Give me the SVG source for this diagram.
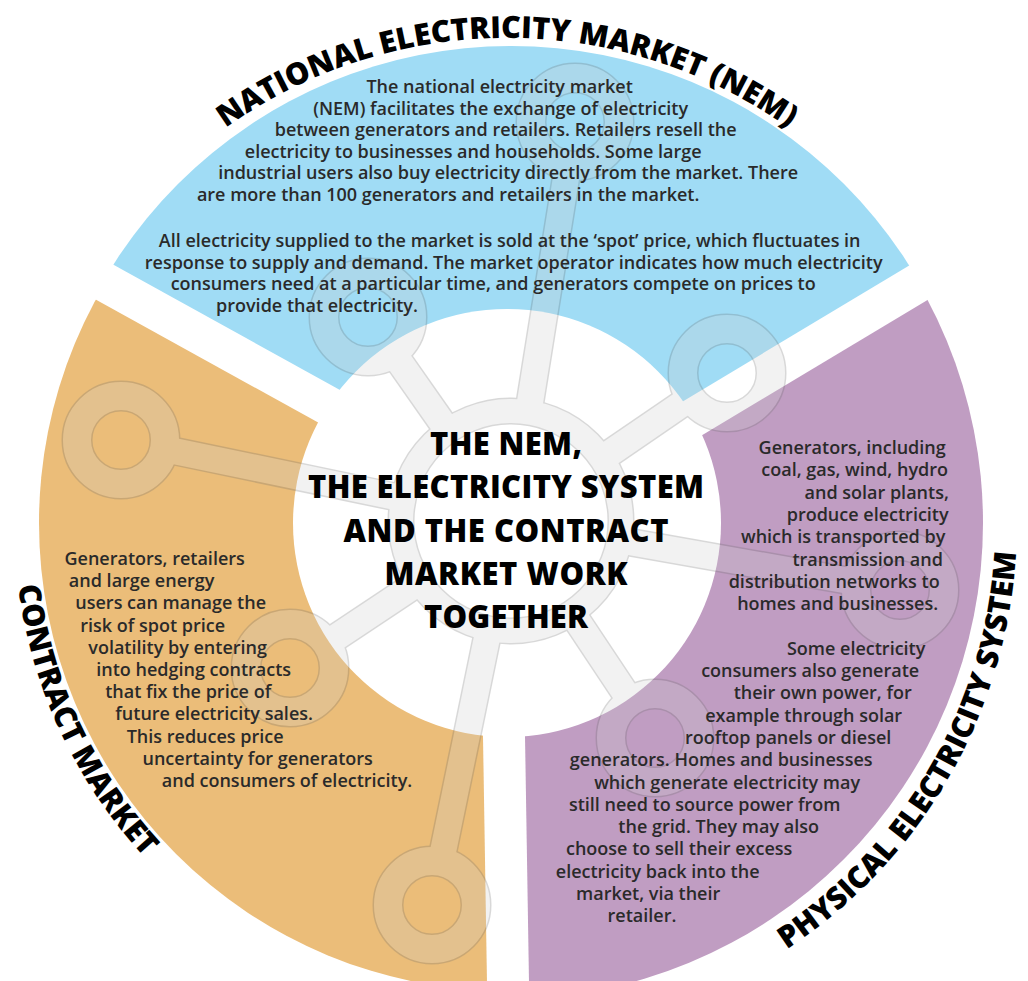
<svg xmlns="http://www.w3.org/2000/svg" width="1028" height="981" viewBox="0 0 1028 981">
<style>
.body{font-family:"Open Sans","Liberation Sans",sans-serif;font-size:18px;font-weight:600;fill:#2a2a2a;text-anchor:middle}
.ctr{font-family:"Open Sans","Liberation Sans",sans-serif;font-size:31px;font-weight:800;fill:#000;text-anchor:middle}
.arc{font-family:"Open Sans","Liberation Sans",sans-serif;font-size:30.5px;font-weight:800;fill:#000}
.gap{stroke:#fff;fill:none}
.net line,.net circle{fill:none}
.outl line,.outl circle{stroke:#686868}
.fill line,.fill circle{stroke:#cfcfcf}
</style>
<defs>
<clipPath id="cBlue"><polygon points="528.6,516.6 -100,169 -100,-100 1100,-100 1100,173.8"/></clipPath>
<clipPath id="cOrange"><polygon points="500.2,500.9 -100,169 -100,1100 509.9,1100"/></clipPath>
<clipPath id="cPurple"><polygon points="500.7,533.4 1100,173.8 1100,1100 509.9,1100"/></clipPath>
<path id="pNem" d="M 38.5 397.5 A 485 485 0 0 1 975.5 397.5"/>
<path id="pCon" d="M 43.7 354.4 A 493 493 0 0 0 338.4 986.3"/>
<path id="pPhy" d="M 595.5 1025.2 A 510 510 0 0 0 986.2 348.6"/>
</defs>
<rect width="1028" height="981" fill="#fff"/>
<g id="segments">
<circle cx="511" cy="517" r="471" fill="#A0DCF5" clip-path="url(#cBlue)"/>
<circle cx="507" cy="523" r="468" fill="#EBBD79" clip-path="url(#cOrange)"/>
<circle cx="507" cy="523" r="476" fill="#C09DC2" clip-path="url(#cPurple)"/>
<line class="gap" x1="500.2" y1="500.9" x2="-100" y2="169" stroke-width="39"/>
<line class="gap" x1="528.6" y1="516.6" x2="1100" y2="173.8" stroke-width="39"/>
<line class="gap" x1="500.5" y1="520" x2="509.9" y2="1100" stroke-width="42"/>
<circle cx="507" cy="523" r="214" fill="#fff"/>
</g>
<g id="network" class="net" opacity="0.25">
<g class="outl">
<circle cx="511" cy="521" r="110" stroke-width="27"/>
<line x1="447.9" y1="430.9" x2="393.3" y2="353.0" stroke-width="29"/>
<line x1="528.4" y1="412.4" x2="568.0" y2="165.4" stroke-width="29"/>
<line x1="601.8" y1="458.8" x2="690.7" y2="397.9" stroke-width="29"/>
<line x1="403.3" y1="498.6" x2="164.1" y2="448.9" stroke-width="29"/>
<line x1="419.4" y1="581.9" x2="326.6" y2="643.6" stroke-width="29"/>
<line x1="488.8" y1="628.8" x2="440.9" y2="861.9" stroke-width="29"/>
<line x1="571.8" y1="612.7" x2="630.7" y2="701.3" stroke-width="29"/>
<line x1="619.3" y1="540.2" x2="856.7" y2="582.3" stroke-width="29"/>
<circle cx="368" cy="317" r="44" stroke-width="31"/>
<circle cx="575" cy="122" r="44" stroke-width="31"/>
<circle cx="727" cy="373" r="44" stroke-width="31"/>
<circle cx="121" cy="440" r="44" stroke-width="31"/>
<circle cx="290" cy="668" r="44" stroke-width="31"/>
<circle cx="432" cy="905" r="44" stroke-width="31"/>
<circle cx="655" cy="738" r="44" stroke-width="31"/>
<circle cx="900" cy="590" r="44" stroke-width="31"/>
</g>
<g class="fill">
<circle cx="511" cy="521" r="110" stroke-width="24"/>
<line x1="447.9" y1="430.9" x2="393.3" y2="353.0" stroke-width="26"/>
<line x1="528.4" y1="412.4" x2="568.0" y2="165.4" stroke-width="26"/>
<line x1="601.8" y1="458.8" x2="690.7" y2="397.9" stroke-width="26"/>
<line x1="403.3" y1="498.6" x2="164.1" y2="448.9" stroke-width="26"/>
<line x1="419.4" y1="581.9" x2="326.6" y2="643.6" stroke-width="26"/>
<line x1="488.8" y1="628.8" x2="440.9" y2="861.9" stroke-width="26"/>
<line x1="571.8" y1="612.7" x2="630.7" y2="701.3" stroke-width="26"/>
<line x1="619.3" y1="540.2" x2="856.7" y2="582.3" stroke-width="26"/>
<circle cx="368" cy="317" r="44" stroke-width="28"/>
<circle cx="575" cy="122" r="44" stroke-width="28"/>
<circle cx="727" cy="373" r="44" stroke-width="28"/>
<circle cx="121" cy="440" r="44" stroke-width="28"/>
<circle cx="290" cy="668" r="44" stroke-width="28"/>
<circle cx="432" cy="905" r="44" stroke-width="28"/>
<circle cx="655" cy="738" r="44" stroke-width="28"/>
<circle cx="900" cy="590" r="44" stroke-width="28"/>
</g>
</g>
<g id="nem">
<text class="arc"><textPath href="#pNem" startOffset="50%" text-anchor="middle">NATIONAL ELECTRICITY MARKET (NEM)</textPath></text>
<text class="body">
<tspan x="502" y="93">The national electricity market</tspan>
<tspan x="503" y="114.6">(NEM) facilitates the exchange of electricity</tspan>
<tspan x="508" y="136.2">between generators and retailers. Retailers resell the</tspan>
<tspan x="475.5" y="157.8">electricity to businesses and households. Some large</tspan>
<tspan x="510.5" y="179.4">industrial users also buy electricity directly from the market. There</tspan>
<tspan x="450.5" y="201">are more than 100 generators and retailers in the market.</tspan>
<tspan x="512" y="247">All electricity supplied to the market is sold at the ‘spot’ price, which fluctuates in</tspan>
<tspan x="516" y="268.6">response to supply and demand. The market operator indicates how much electricity</tspan>
<tspan x="495.5" y="290.2">consumers need at a particular time, and generators compete on prices to</tspan>
<tspan x="317" y="311.8">provide that electricity.</tspan>
</text>
</g>
<g id="contract">
<text class="arc"><textPath href="#pCon" startOffset="50%" text-anchor="middle">CONTRACT MARKET</textPath></text>
<text class="body">
<tspan x="157" y="565">Generators, retailers</tspan>
<tspan x="144" y="587.2">and large energy</tspan>
<tspan x="173" y="609.4">users can manage the</tspan>
<tspan x="155" y="631.6">risk of spot price</tspan>
<tspan x="180" y="653.8">volatility by entering</tspan>
<tspan x="196" y="676">into hedging contracts</tspan>
<tspan x="190.5" y="698.2">that fix the price of</tspan>
<tspan x="216.5" y="720.4">future electricity sales.</tspan>
<tspan x="207.5" y="742.6">This reduces price</tspan>
<tspan x="260" y="764.8">uncertainty for generators</tspan>
<tspan x="287" y="787">and consumers of electricity.</tspan>
</text>
</g>
<g id="physical">
<text class="arc"><textPath href="#pPhy" startOffset="50%" text-anchor="middle">PHYSICAL ELECTRICITY SYSTEM</textPath></text>
<text class="body">
<tspan x="854.5" y="454">Generators, including</tspan>
<tspan x="857" y="476.3">coal, gas, wind, hydro</tspan>
<tspan x="879" y="498.6">and solar plants,</tspan>
<tspan x="870" y="520.9">produce electricity</tspan>
<tspan x="845.5" y="543.2">which is transported by</tspan>
<tspan x="870" y="565.5">transmission and</tspan>
<tspan x="836.5" y="587.8">distribution networks to</tspan>
<tspan x="840" y="610.1">homes and businesses.</tspan>
<tspan x="858.5" y="654.7">Some electricity</tspan>
<tspan x="812.5" y="677">consumers also generate</tspan>
<tspan x="825" y="699.3">their own power, for</tspan>
<tspan x="806" y="721.6">example through solar</tspan>
<tspan x="790.5" y="743.9">rooftop panels or diesel</tspan>
<tspan x="723.5" y="766.2">generators. Homes and businesses</tspan>
<tspan x="729.5" y="788.5">which generate electricity may</tspan>
<tspan x="707" y="810.8">still need to source power from</tspan>
<tspan x="721" y="833.1">the grid. They may also</tspan>
<tspan x="681.5" y="855.4">choose to sell their excess</tspan>
<tspan x="660" y="877.7">electricity back into the</tspan>
<tspan x="650.5" y="900">market, via their</tspan>
<tspan x="642" y="922.3">retailer.</tspan>
</text>
</g>
<g id="center">
<text class="ctr" x="506" y="455" textLength="152">THE NEM,</text>
<text class="ctr" x="506" y="498" textLength="396">THE ELECTRICITY SYSTEM</text>
<text class="ctr" x="506" y="542" textLength="325">AND THE CONTRACT</text>
<text class="ctr" x="506" y="585" textLength="243">MARKET WORK</text>
<text class="ctr" x="506" y="628" textLength="164">TOGETHER</text>
</g>
</svg>
